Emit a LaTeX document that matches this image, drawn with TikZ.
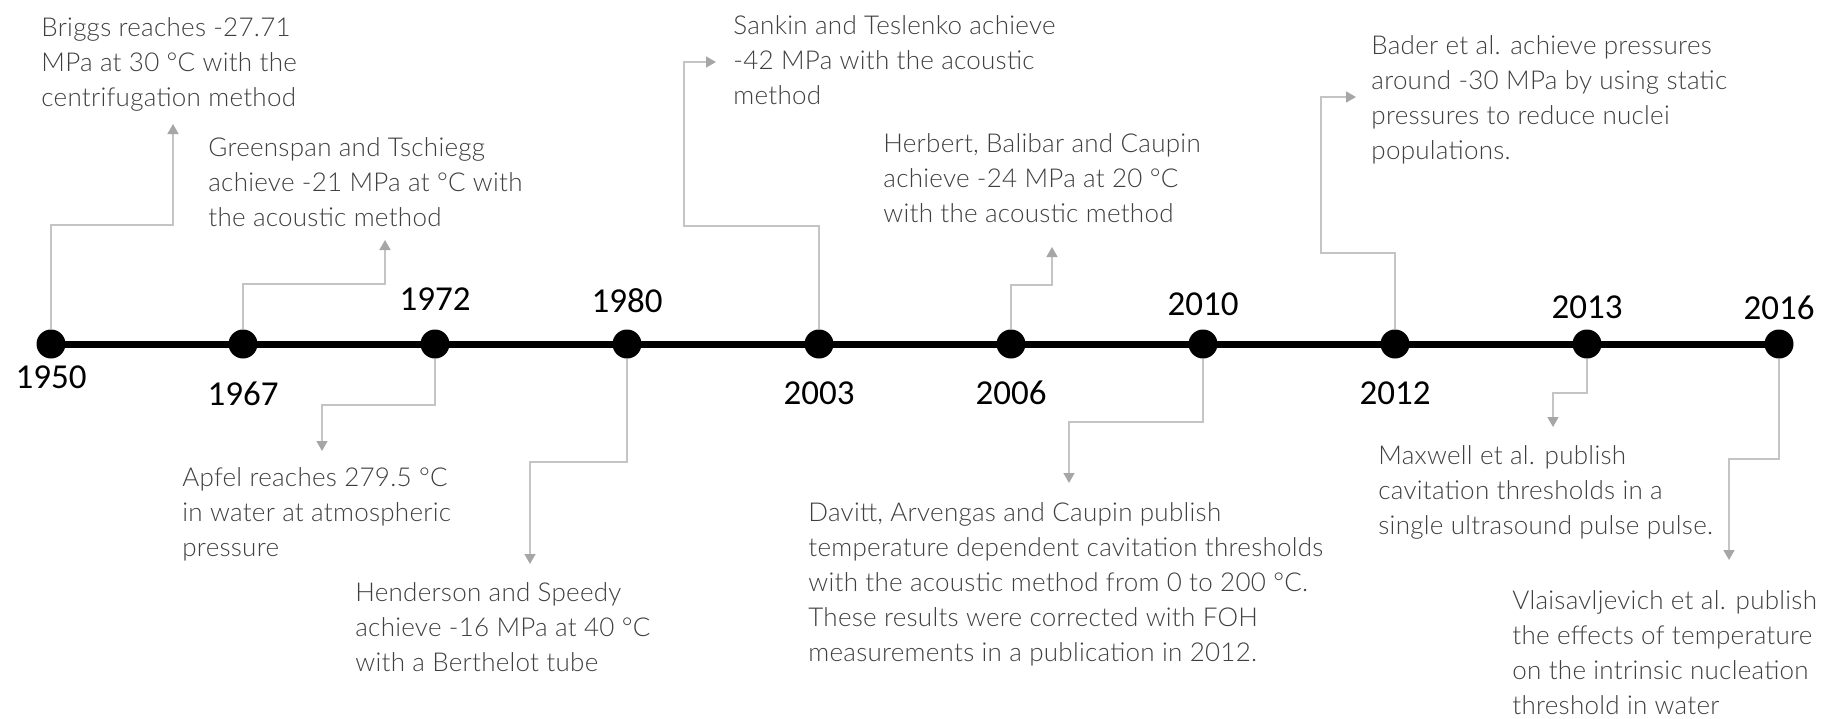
\documentclass[tikz,border=0pt]{standalone}
\usepackage{fontspec}
\newfontfamily\evfont{Lato Light}[LetterSpace=1]
\newfontfamily\yrfont{Carlito}
\usetikzlibrary{arrows.meta}
\definecolor{evtext}{HTML}{3F3F3F}
\definecolor{connline}{HTML}{C4C4C4}
\definecolor{conntip}{HTML}{A6A6A6}

\begin{document}
\begin{tikzpicture}[x=0.5pt, y=-0.5pt,
    dot/.style={circle, fill=black, inner sep=0pt, minimum size=14.5pt},
    yearlbl/.style={font=\yrfont\fontsize{17.5}{21}\selectfont, inner sep=0pt},
    event/.style={anchor=north west, align=left, inner sep=0pt, text=evtext, font=\evfont\fontsize{13}{17.5}\selectfont},
    conn/.style={draw=connline, line width=0.8pt, -{Triangle[length=5pt, width=5.5pt, color=conntip]}}]
    \useasboundingbox (0,0) rectangle (1836,718);

    \foreach \yr/\ly [count=\i from 0] in {1950/377, 1967/394, 1972/299, 1980/301, 2003/393, 2006/393, 2010/304, 2012/393, 2013/307, 2016/308} {
        \node[dot] (d\yr) at ({51+192*\i},344) {};
        \node[yearlbl] (y\yr) at ({51+192*\i},\ly) {\yr};
    }
    \draw[line width=3.5pt] (d1950.center) -- (d2016.center);

    \node[event] (e1950) at (41,17) {Briggs reaches -27.71\\MPa at 30 °C with the\\centrifugation method};
    \node[event] (e1967) at (208,137) {Greenspan and Tschiegg\\achieve -21 MPa at °C with\\the acoustic method};
    \node[event] (e1972) at (182,467) {Apfel reaches 279.5 °C\\in water at atmospheric\\pressure};
    \node[event] (e1980) at (355,582) {Henderson and Speedy\\achieve -16 MPa at 40 °C\\with a Berthelot tube};
    \node[event] (e2003) at (733,15) {Sankin and Teslenko achieve\\-42 MPa with the acoustic\\method};
    \node[event] (e2006) at (883,133) {Herbert, Balibar and Caupin\\achieve -24 MPa at 20 °C\\with the acoustic method};
    \node[event] (e2010) at (808,502) {Davitt, Arvengas and Caupin publish\\temperature dependent cavitation thresholds\\with the acoustic method from 0 to 200 °C.\\These results were corrected with FOH\\measurements in a publication in 2012.};
    \node[event] (e2012) at (1371,35) {Bader et al. achieve pressures\\around -30 MPa by using static\\pressures to reduce nuclei\\populations.};
    \node[event] (e2013) at (1378,445) {Maxwell et al. publish\\cavitation thresholds in a\\single ultrasound pulse pulse.};
    \node[event] (e2016) at (1512,590) {Vlaisavljevich et al. publish\\the effects of temperature\\on the intrinsic nucleation\\threshold in water};

    \coordinate (k1950) at (173,225);  \coordinate (t1950) at (173,124);
    \coordinate (k1967) at (385,284);  \coordinate (t1967) at (385,240);
    \coordinate (k1972) at (322,405);  \coordinate (t1972) at (322,451);
    \coordinate (k1980) at (530,462);  \coordinate (t1980) at (530,564);
    \coordinate (k2003) at (684,226);  \coordinate (t2003) at (716,62);
    \coordinate (k2006) at (1052,285); \coordinate (t2006) at (1052,247);
    \coordinate (k2010) at (1069,422); \coordinate (t2010) at (1069,483);
    \coordinate (k2012) at (1321,253); \coordinate (t2012) at (1356,97);
    \coordinate (k2013) at (1553,393); \coordinate (t2013) at (1553,427);
    \coordinate (k2016) at (1729,459); \coordinate (t2016) at (1729,560);

    \draw[conn] (d1950.north) |- (k1950) -- (t1950);
    \draw[conn] (d1967.north) |- (k1967) -- (t1967);
    \draw[conn] (d1972.south) |- (k1972) -- (t1972);
    \draw[conn] (d1980.south) |- (k1980) -- (t1980);
    \draw[conn] (d2003.north) |- (k2003) |- (t2003);
    \draw[conn] (d2006.north) |- (k2006) -- (t2006);
    \draw[conn] (d2010.south) |- (k2010) -- (t2010);
    \draw[conn] (d2012.north) |- (k2012) |- (t2012);
    \draw[conn] (d2013.south) |- (k2013) -- (t2013);
    \draw[conn] (d2016.south) |- (k2016) -- (t2016);
\end{tikzpicture}
\end{document}
